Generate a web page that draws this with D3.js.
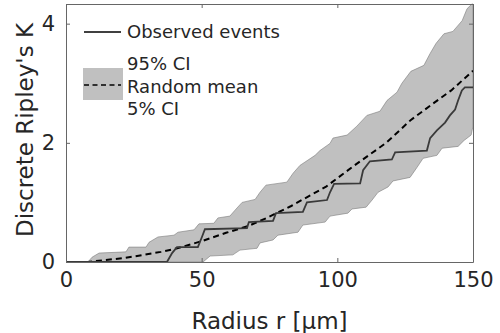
<!DOCTYPE html>
<html>
<head>
<meta charset="utf-8">
<script src="https://cdn.jsdelivr.net/npm/d3@7"></script>
<style>
  body { margin: 0; background: #fff; }
  text { font-family: "DejaVu Sans", sans-serif; fill: #262626; }
</style>
</head>
<body>
<script>
var width = 500;
var height = 333;
var margin = {left: 66, right: 27, top: 4, bottom: 71};

// observed K (step corners)
var obsR = [0, 37.2, 39.1, 40.9, 48.6, 50.1, 51.2, 66.7, 67.4, 76.3, 77.4, 87.3, 88.8, 96.2, 97.3, 98.8,
            108.4, 109.5, 112.0, 120.1, 121.3, 133.0, 134.2, 136.7, 139.7, 141.5, 143.4, 144.5, 145.9, 147.0, 150];
var obsK = [0, 0, 0.15, 0.25, 0.25, 0.42, 0.55, 0.57, 0.67, 0.69, 0.82, 0.84, 1.00, 1.04, 1.17, 1.31,
            1.32, 1.54, 1.69, 1.72, 1.84, 1.87, 2.08, 2.21, 2.34, 2.46, 2.56, 2.71, 2.88, 2.93, 2.93];

// random mean
var meanR = [0, 8, 22, 35, 41, 50, 59, 67, 74, 83, 96, 106, 118, 127, 135, 142, 150];
var meanK = [0, 0, 0.07, 0.17, 0.23, 0.35, 0.49, 0.60, 0.74, 0.94, 1.27, 1.61, 2.00, 2.38, 2.65, 2.88, 3.21];

// 95% CI (upper edge)
var upR = [0, 8.1, 9.6, 12.2, 22.1, 23.2, 29.5, 30.6, 33.9, 39.8, 41.3, 47.2, 49.0, 54.5, 56.0, 60.4, 62.3,
           64.9, 69.7, 71.5, 73.7, 81.4, 83.7, 86.2, 91.8, 93.6, 97.3, 98.4, 103.6, 107.2, 110.9, 115.7,
           118.3, 122.0, 123.8, 127.1, 131.9, 134.2, 136.4, 139.3, 142.6, 146.0, 147.8, 149.6, 150];
var upK = [0, 0, 0.08, 0.15, 0.17, 0.25, 0.25, 0.33, 0.42, 0.45, 0.50, 0.54, 0.64, 0.65, 0.74, 0.77, 0.87,
           1.00, 1.05, 1.17, 1.29, 1.34, 1.49, 1.62, 1.79, 1.87, 1.99, 2.08, 2.13, 2.28, 2.46, 2.53,
           2.71, 2.85, 3.00, 3.20, 3.30, 3.50, 3.67, 3.83, 3.87, 4.05, 4.25, 4.33, 4.33];

// 5% CI (lower edge)
var loR = [0, 50.5, 53.1, 61.5, 64.1, 70.4, 71.5, 76.3, 78.1, 85.5, 87.3, 95.5, 97.3, 103.9, 105.4, 110.6,
           112.8, 115.0, 118.7, 120.5, 126.8, 129.4, 131.6, 136.7, 138.6, 144.5, 146.7, 149.3, 150];
var loK = [0, 0, 0.10, 0.12, 0.20, 0.23, 0.32, 0.37, 0.45, 0.50, 0.62, 0.67, 0.77, 0.82, 0.89, 0.92,
           1.04, 1.17, 1.26, 1.36, 1.42, 1.59, 1.74, 1.79, 1.91, 1.94, 2.04, 2.13, 2.28];

var xTicks = [0, 50, 100, 150];
var yTicks = [0, 2, 4];

var svg = d3.select("body").append("svg")
  .attr("width", width)
  .attr("height", height);

var xScale = d3.scaleLinear().domain([0, 150]).range([margin.left, width - margin.right]);
var yScale = d3.scaleLinear().domain([0, 4.33]).range([height - margin.bottom, margin.top]);

var line = d3.line()
  .x(function(d) { return xScale(d[0]); })
  .y(function(d) { return yScale(d[1]); });

// CI band: upper edge forward, lower edge back
var upPts = upR.map(function(r, i) { return [r, upK[i]]; });
var loPts = loR.map(function(r, i) { return [r, loK[i]]; });
var band = upPts.concat(loPts.slice().reverse());

svg.append("path")
  .attr("d", line(band) + "Z")
  .attr("fill", "#c0c0c0")
  .attr("stroke", "#7a7a7a")
  .attr("stroke-width", 0.6);

svg.append("path")
  .attr("d", line(meanR.map(function(r, i) { return [r, meanK[i]]; })))
  .attr("fill", "none")
  .attr("stroke", "#000")
  .attr("stroke-width", 2)
  .attr("stroke-dasharray", "6,4");

svg.append("path")
  .attr("d", line(obsR.map(function(r, i) { return [r, obsK[i]]; })))
  .attr("fill", "none")
  .attr("stroke", "#3a3a3a")
  .attr("stroke-width", 1.8);

// axes: box with inward ticks
var x0 = xScale(0), x1 = xScale(150), y0 = yScale(0), y1 = yScale(4.33);

svg.append("g")
  .attr("transform", "translate(0," + y0 + ")")
  .call(d3.axisBottom(xScale).tickValues(xTicks).tickFormat(d3.format("d"))
    .tickSizeInner(-4).tickSizeOuter(0).tickPadding(10))
  .call(function(g) { g.selectAll("text").attr("font-size", "21px"); });

svg.append("g")
  .attr("transform", "translate(" + x0 + ",0)")
  .call(d3.axisLeft(yScale).tickValues(yTicks).tickFormat(d3.format("d"))
    .tickSizeInner(-4).tickSizeOuter(0).tickPadding(11))
  .call(function(g) { g.selectAll("text").attr("font-size", "21px"); });

svg.append("g")
  .attr("transform", "translate(0," + y1 + ")")
  .call(d3.axisTop(xScale).tickValues(xTicks).tickSizeInner(-4).tickSizeOuter(0).tickFormat(""));

svg.append("g")
  .attr("transform", "translate(" + x1 + ",0)")
  .call(d3.axisRight(yScale).tickValues(yTicks).tickSizeInner(-4).tickSizeOuter(0).tickFormat(""));

svg.selectAll(".domain").attr("stroke", "#666");
svg.selectAll(".tick line").attr("stroke", "#666");
svg.selectAll(".tick text").attr("fill", "#262626").attr("font-family", "DejaVu Sans, sans-serif");

svg.append("text")
  .attr("x", (x0 + x1) / 2)
  .attr("y", 329)
  .attr("text-anchor", "middle")
  .attr("font-size", "23px")
  .text("Radius r [\u00b5m]");

svg.append("text")
  .attr("transform", "translate(33," + ((y0 + y1) / 2 - 3) + ") rotate(-90)")
  .attr("text-anchor", "middle")
  .attr("font-size", "23px")
  .text("Discrete Ripley's K");

// legend
var lg = svg.append("g");
lg.append("line")
  .attr("x1", 84).attr("x2", 121).attr("y1", 32).attr("y2", 32)
  .attr("stroke", "#000").attr("stroke-width", 1.3);
lg.append("text").attr("x", 127).attr("y", 38).attr("font-size", "18px").text("Observed events");

lg.append("rect")
  .attr("x", 83).attr("y", 68).attr("width", 40).attr("height", 32)
  .attr("fill", "#c0c0c0");
lg.append("line")
  .attr("x1", 84).attr("x2", 121).attr("y1", 85).attr("y2", 85)
  .attr("stroke", "#000").attr("stroke-width", 1.3).attr("stroke-dasharray", "5,3.5");
lg.append("text").attr("x", 127).attr("y", 70).attr("font-size", "18px").text("95% CI");
lg.append("text").attr("x", 127).attr("y", 93).attr("font-size", "18px").text("Random mean");
lg.append("text").attr("x", 127).attr("y", 115).attr("font-size", "18px").text("5% CI");
</script>
</body>
</html>
